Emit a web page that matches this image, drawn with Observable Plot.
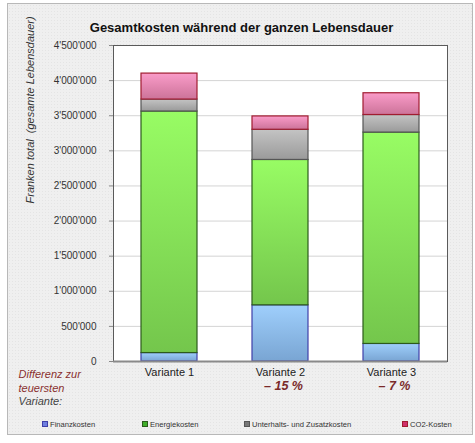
<!DOCTYPE html>
<html><head><meta charset="utf-8">
<script src="https://cdn.jsdelivr.net/npm/d3@7"></script>
<script src="https://cdn.jsdelivr.net/npm/@observablehq/plot@0.6"></script>
<style>
body{margin:0;background:#fff;font-family:"Liberation Sans",Arial,sans-serif;}
#wrap{position:relative;width:475px;height:443px;overflow:hidden;}
#box{position:absolute;left:7px;top:3px;width:464px;height:430px;border:1px solid #b8b8b8;
 background-color:#efefef;
 background-image:radial-gradient(#e4e4e4 0.6px, transparent 0.7px);background-size:3px 3px;}
#title{position:absolute;left:0;width:483px;top:20px;text-align:center;font-weight:bold;font-size:13px;color:#111;}
#chart{position:absolute;left:0;top:0;}
#legend{position:absolute;top:420px;left:0;width:475px;height:12px;font-size:7.6px;color:#333;}
#legend span.it{position:absolute;white-space:nowrap;}
#legend i{display:inline-block;width:4px;height:4px;border:1px solid;margin-right:2px;vertical-align:0px;}
</style></head>
<body>
<svg width="0" height="0" style="position:absolute">
 <defs>
  <linearGradient id="gFin" x1="0" y1="0" x2="0" y2="1"><stop offset="0" stop-color="#9fcffc"/><stop offset="1" stop-color="#79a5d3"/></linearGradient>
  <linearGradient id="gEne" x1="0" y1="0" x2="0" y2="1"><stop offset="0" stop-color="#98fc64"/><stop offset="1" stop-color="#74c64c"/></linearGradient>
  <linearGradient id="gUnt" x1="0" y1="0" x2="0" y2="1"><stop offset="0" stop-color="#c4c4c4"/><stop offset="1" stop-color="#9a9a9a"/></linearGradient>
  <linearGradient id="gCO2" x1="0" y1="0" x2="0" y2="1"><stop offset="0" stop-color="#fa9cc9"/><stop offset="1" stop-color="#cc7399"/></linearGradient>
 </defs>
</svg>
<div id="wrap">
 <div id="box"></div>
 <div id="title">Gesamtkosten während der ganzen Lebensdauer</div>
 <div id="chart"></div>
 <div id="legend"></div>
</div>
<script>
const variants = ["Variante 1", "Variante 2", "Variante 3"];
const series = ["Finanzkosten", "Energiekosten", "Unterhalts- und Zusatzkosten", "CO2-Kosten"];
const finanz = [120000, 800000, 250000];
const energie = [3440000, 2070000, 3010000];
const unterhalt = [170000, 430000, 250000];
const co2 = [370000, 190000, 310000];
const diffs = ["", "– 15 %", "– 7 %"];
const yTicks = [0, 500000, 1000000, 1500000, 2000000, 2500000, 3000000, 3500000, 4000000, 4500000];

const fills = {"Finanzkosten":"url(#gFin)","Energiekosten":"url(#gEne)","Unterhalts- und Zusatzkosten":"url(#gUnt)","CO2-Kosten":"url(#gCO2)"};
const strokes = {"Finanzkosten":"#4040a8","Energiekosten":"#2c5a1c","Unterhalts- und Zusatzkosten":"#555555","CO2-Kosten":"#a01c30"};
const swatch = {"Finanzkosten":"#6f7fe0","Energiekosten":"#3fae2a","Unterhalts- und Zusatzkosten":"#777","CO2-Kosten":"#d0306a"};

const valuesBySeries = [finanz, energie, unterhalt, co2];
const data = [];
series.forEach((s, i) => variants.forEach((v, j) => data.push({variant: v, series: s, value: valuesBySeries[i][j]})));

const loc = d3.formatLocale({decimal: ".", thousands: "'", grouping: [3], currency: ["", ""]});
const fmt = loc.format(",d");

const plot = Plot.plot({
  width: 475, height: 443,
  marginLeft: 113, marginRight: 28, marginTop: 45, marginBottom: 82,
  style: {background: "transparent", fontFamily: "Liberation Sans, Arial, sans-serif", overflow: "visible"},
  x: {domain: variants, paddingInner: 0.5, paddingOuter: 0.25, label: null},
  y: {domain: [0, 4500000], label: null},
  color: {type: "identity"},
  marks: [
    Plot.frame({fill: "white"}),
    Plot.ruleY(yTicks.slice(1), {stroke: "#d4d4d4", strokeWidth: 1}),
    Plot.barY(data, Plot.stackY({
      x: "variant", y: "value", z: "series", order: series,
      fill: d => fills[d.series], stroke: d => strokes[d.series], strokeWidth: 1.2
    })),
    Plot.frame({stroke: "#5a5a5a", strokeWidth: 1}),
    Plot.ruleY([0], {stroke: "#8a8a8a", strokeWidth: 2}),
    Plot.axisY({ticks: yTicks, tickFormat: fmt, tickSize: 4, tickPadding: 13, fontSize: 10, stroke: "#888", color: "#333", label: null}),
    Plot.axisX({tickSize: 0, tickPadding: 7, fontSize: 11, color: "#222", label: null}),
    Plot.text(variants.map((v, i) => ({variant: v, diff: diffs[i]})), {
      x: "variant", text: "diff", frameAnchor: "bottom", dy: 28, dx: 3,
      fontSize: 12.5, fontWeight: "bold", fontStyle: "italic", fill: "#7a2a2a"
    }),
    Plot.text(["Franken total  (gesamte Lebensdauer)"], {
      frameAnchor: "left", dx: -83, rotate: -90, fontSize: 11, fontStyle: "italic", fill: "#333"
    }),
    Plot.text(["Differenz zur"], {frameAnchor: "bottom-left", dx: -95, dy: 16, textAnchor: "start", fontSize: 11, fontStyle: "italic", fill: "#8a3030"}),
    Plot.text(["teuersten"], {frameAnchor: "bottom-left", dx: -95, dy: 30, textAnchor: "start", fontSize: 11, fontStyle: "italic", fill: "#8a3030"}),
    Plot.text(["Variante:"], {frameAnchor: "bottom-left", dx: -95, dy: 43, textAnchor: "start", fontSize: 11, fontStyle: "italic", fill: "#444"})
  ]
});
document.getElementById("chart").appendChild(plot);

const legendLeft = [42, 142, 244, 402];
const lg = document.getElementById("legend");
series.forEach((s, i) => {
  const el = document.createElement("span");
  el.className = "it";
  el.style.left = legendLeft[i] + "px";
  el.innerHTML = `<i style="background:${swatch[s]};border-color:${strokes[s]}"></i>${s}`;
  lg.appendChild(el);
});
</script>
</body></html>
